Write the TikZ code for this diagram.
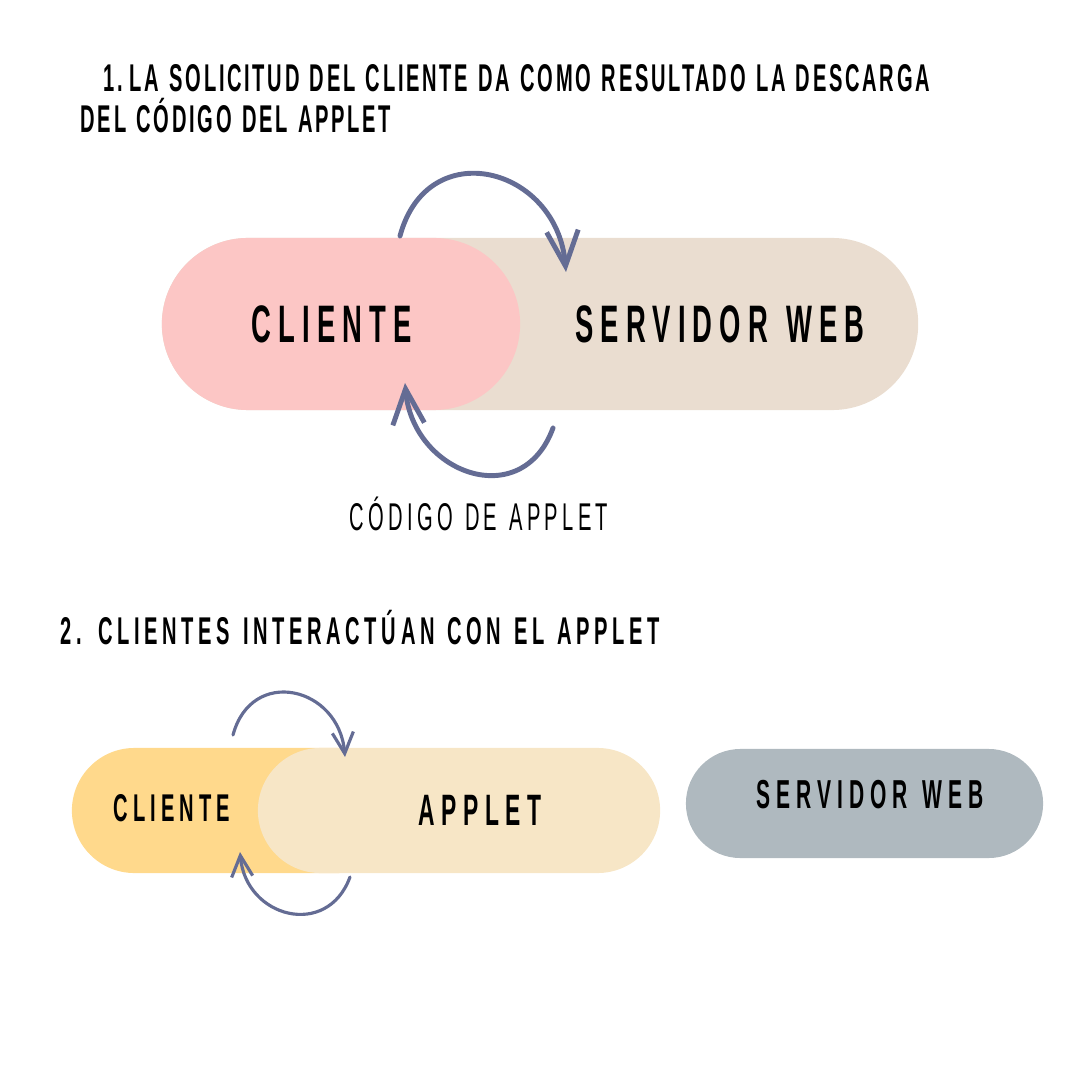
\documentclass[tikz,border=0pt]{standalone}
\usepackage{fontspec}
\setmainfont{Liberation Sans}[FakeStretch=0.52,LetterSpace=7,WordSpace=1.25]
\usetikzlibrary{shapes.misc,arrows.meta}

\definecolor{pinkcli}{HTML}{FCC6C5}
\definecolor{tansrv}{HTML}{EADDD0}
\definecolor{yelcli}{HTML}{FFD98C}
\definecolor{creamapp}{HTML}{F7E6C6}
\definecolor{graysrv}{HTML}{AFB9BF}
\definecolor{arrowc}{HTML}{646C94}

\tikzset{
  pill/.style={rounded rectangle, inner sep=0pt, draw=none},
  bigtxt/.style={font=\bfseries\fontsize{15}{17}\selectfont\addfontfeatures{LetterSpace=13.5}},
  smalltxt/.style={font=\bfseries\fontsize{11.5}{13}\selectfont\addfontfeatures{LetterSpace=15}},
  title/.style={font=\bfseries\fontsize{11}{13}\selectfont, anchor=west, inner sep=0pt},
  turnbig/.style={draw=arrowc, line width=1.4pt, line cap=round,
    -{Straight Barb[length=10pt,width=9pt,line width=1.4pt]}},
  turnsmall/.style={draw=arrowc, line width=0.9pt, line cap=round,
    -{Straight Barb[length=6pt,width=6pt,line width=0.9pt]}}
}

\begin{document}
\begin{tikzpicture}[x=0.01cm,y=-0.01cm]
\useasboundingbox (0,0) rectangle (1080,1080);

% 1. descarga del applet
\node[title] (t1a) at (103,78) {1.\,LA SOLICITUD DEL CLIENTE DA COMO RESULTADO LA DESCARGA};
\node[title] (t1b) at (80,116) {DEL CÓDIGO DEL APPLET};

\node[pill, fill=tansrv, minimum width=7.56cm, minimum height=1.72cm] (srv1) at (540,324) {};
\node[pill, fill=pinkcli, minimum width=3.58cm, minimum height=1.72cm] (cli1) at (341,324) {};
\node[bigtxt] (cli1txt) at (332,324) {CLIENTE};
\node[bigtxt] (srv1txt) at (720,324) {SERVIDOR WEB};

\coordinate (up1s) at (400,236);
\coordinate (up1e) at (566,272);
\coordinate (dn1s) at (553,428);
\coordinate (dn1e) at (405,383);
\draw[turnbig] (up1s) to[out=75,in=95,looseness=1.6] (up1e);
\draw[turnbig] (dn1s) to[out=-110,in=-85,looseness=1.5] (dn1e);

\node[font=\fontsize{11}{13}\selectfont\addfontfeatures{LetterSpace=11}] (code1) at (479,514) {CÓDIGO DE APPLET};

% 2. interaccion con el applet
\node[title, font=\bfseries\fontsize{11}{13}\selectfont\addfontfeatures{LetterSpace=12}] (t2) at (60,628) {2. CLIENTES INTERACTÚAN CON EL APPLET};

\node[pill, fill=yelcli, minimum width=3.28cm, minimum height=1.25cm] (cli2) at (236,810.5) {};
\node[pill, fill=creamapp, minimum width=4.02cm, minimum height=1.25cm] (app2) at (459,810.5) {};
\node[pill, fill=graysrv, minimum width=3.57cm, minimum height=1.09cm] (srv2) at (864.5,803.5) {};
\node[font=\bfseries\fontsize{11}{13}\selectfont\addfontfeatures{LetterSpace=13}] (cli2txt) at (172,808) {CLIENTE};
\node[font=\bfseries\fontsize{12.5}{14}\selectfont\addfontfeatures{LetterSpace=14.5}] (app2txt) at (480,810) {APPLET};
\node[smalltxt] (srv2txt) at (870,795) {SERVIDOR WEB};

\coordinate (up2s) at (233,735);
\coordinate (up2e) at (345,757);
\coordinate (dn2s) at (350,877);
\coordinate (dn2e) at (240,852);
\draw[turnsmall] (up2s) to[out=75,in=95,looseness=1.6] (up2e);
\draw[turnsmall] (dn2s) to[out=-110,in=-85,looseness=1.5] (dn2e);
\end{tikzpicture}
\end{document}
